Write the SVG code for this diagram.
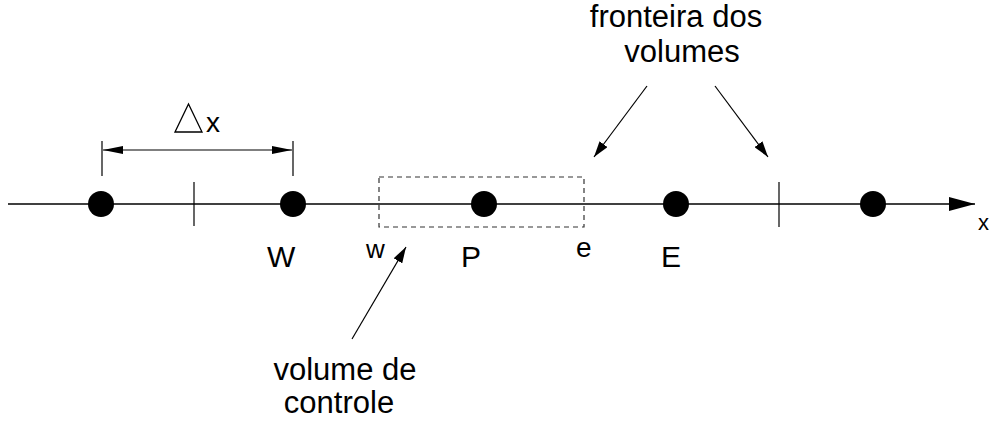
<svg xmlns="http://www.w3.org/2000/svg" width="991" height="423" viewBox="0 0 991 423">
<style>
text{font-family:"Liberation Sans",Arial,sans-serif;fill:#000}
.lbl{font-size:30px}
.big{font-size:31px;text-anchor:middle}
.ln{stroke:#000;stroke-width:1.5;fill:none}
.tk{stroke:#000;stroke-width:1.2;fill:none}
.dot{fill:#000}
</style>
<defs>
<marker id="ah" markerWidth="16" markerHeight="10" refX="16" refY="5" orient="auto" markerUnits="userSpaceOnUse">
<path d="M0,0 L16,5 L0,10 Z" fill="#000"/>
</marker>
<marker id="ahs" markerWidth="20" markerHeight="8" refX="20" refY="4" orient="auto-start-reverse" markerUnits="userSpaceOnUse">
<path d="M0,0 L20,4 L0,8 Z" fill="#000"/>
</marker>
<marker id="ax" markerWidth="26" markerHeight="14" refX="26" refY="7" orient="auto" markerUnits="userSpaceOnUse">
<path d="M0,0 L26,7 L0,14 Z" fill="#000"/>
</marker>
</defs>
<g id="connectors">
<line class="ln" x1="8" y1="204" x2="975" y2="204" marker-end="url(#ax)"/>
<line class="tk" x1="194" y1="182" x2="194" y2="226"/>
<line class="tk" x1="779" y1="182" x2="779" y2="227"/>
<line class="tk" x1="102" y1="141" x2="102" y2="176"/>
<line class="tk" x1="293" y1="141" x2="293" y2="176"/>
<line class="tk" x1="103" y1="150" x2="292" y2="150" marker-start="url(#ahs)" marker-end="url(#ahs)"/>
<line class="tk" x1="647" y1="86" x2="594" y2="157" marker-end="url(#ah)"/>
<line class="tk" x1="715" y1="86" x2="768" y2="157" marker-end="url(#ah)"/>
<line class="tk" x1="352" y1="339" x2="406" y2="247" marker-end="url(#ah)"/>
</g>
<g id="control-volume">
<rect x="379" y="177" width="205" height="50" fill="none" stroke="#333" stroke-width="1.2" stroke-dasharray="5,4"/>
</g>
<g id="node-1"><circle class="dot" cx="101" cy="204" r="13"/></g>
<g id="node-W"><circle class="dot" cx="293" cy="204" r="13"/><text class="lbl" x="267" y="267">W</text></g>
<g id="node-P"><circle class="dot" cx="484" cy="204" r="13"/><text class="lbl" x="461" y="267">P</text></g>
<g id="node-E"><circle class="dot" cx="676" cy="204" r="13"/><text class="lbl" x="661" y="267">E</text></g>
<g id="node-5"><circle class="dot" cx="873" cy="204" r="13"/></g>
<g id="face-w"><text x="366" y="258" style="font-size:26px">w</text></g>
<g id="face-e"><text x="576" y="257" style="font-size:28px">e</text></g>
<g id="axis-label"><text x="978" y="230" style="font-size:22px">x</text></g>
<g id="delta-x">
<polygon points="175,132 188.5,104 202,132" fill="none" stroke="#000" stroke-width="1.3"/>
<text x="206" y="132" style="font-size:28px">x</text>
</g>
<g id="label-fronteira">
<text class="big" x="676" y="27">fronteira dos</text>
<text class="big" x="682" y="62">volumes</text>
</g>
<g id="label-volume">
<text class="big" x="345" y="380">volume de</text>
<text class="big" x="339" y="413">controle</text>
</g>
</svg>
